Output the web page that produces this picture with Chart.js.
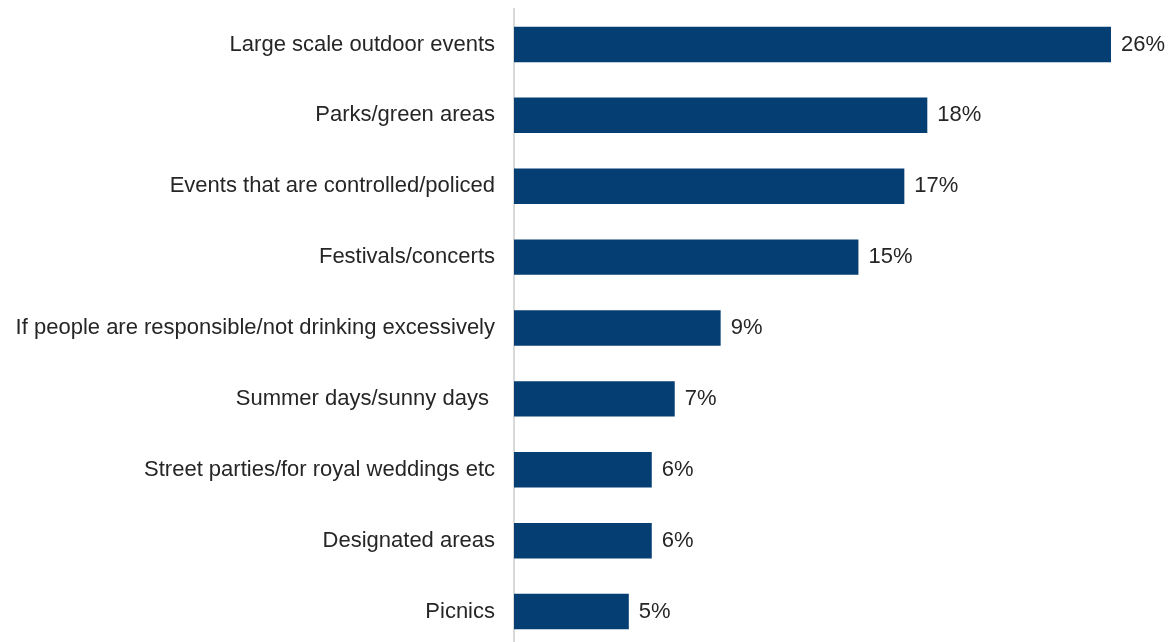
<!DOCTYPE html>
<html>
<head>
<meta charset="utf-8">
<script src="https://cdn.jsdelivr.net/npm/chart.js@4"></script>
<style>
  html, body { margin: 0; padding: 0; background: #fff; overflow: hidden; }
  #wrap { position: absolute; left: 0; top: 0; width: 1173px; height: 648px; }
</style>
</head>
<body>
<div id="wrap"><canvas id="places-chart"></canvas></div>
<script>
var categories = [
  'Large scale outdoor events',
  'Parks/green areas',
  'Events that are controlled/policed',
  'Festivals/concerts',
  'If people are responsible/not drinking excessively',
  'Summer days/sunny days ',
  'Street parties/for royal weddings etc',
  'Designated areas',
  'Picnics'
];
var percentages = [26, 18, 17, 15, 9, 7, 6, 6, 5];

var FONT = 'Arial, "Liberation Sans", sans-serif';
var TEXT = '#262626';

// writes "n%" just past the end of each bar
var valueLabels = {
  id: 'valueLabels',
  afterDatasetsDraw: function (chart) {
    var ctx = chart.ctx;
    var meta = chart.getDatasetMeta(0);
    ctx.save();
    ctx.font = '22px ' + FONT;
    ctx.fillStyle = TEXT;
    ctx.textAlign = 'left';
    ctx.textBaseline = 'middle';
    meta.data.forEach(function (bar, i) {
      ctx.fillText(percentages[i] + '%', bar.x + 10, bar.y);
    });
    ctx.restore();
  }
};

var ctx = document.getElementById('places-chart').getContext('2d');

var placesChart = new Chart(ctx, {
  type: 'bar',
  data: {
    labels: categories,
    datasets: [{
      label: '% of respondents',
      data: percentages,
      backgroundColor: '#043e73',
      borderWidth: 0,
      barPercentage: 0.5,
      categoryPercentage: 1.0
    }]
  },
  options: {
    indexAxis: 'y',
    responsive: true,
    maintainAspectRatio: false,
    animation: false,
    layout: {
      padding: { top: 9, right: 62, bottom: 1, left: 0 }
    },
    plugins: {
      legend: { display: false },
      tooltip: { enabled: false }
    },
    scales: {
      x: {
        display: false,
        min: 0,
        max: 26
      },
      y: {
        afterFit: function (scale) {
          // fixed label column, no extra room above/below the first/last label
          scale.width = 514;
          scale.paddingTop = 0;
          scale.paddingBottom = 0;
        },
        grid: { display: true, color: 'transparent', drawTicks: false },
        border: { display: true, color: '#d9d9d9', width: 2 },
        ticks: {
          padding: 19,
          color: TEXT,
          font: { family: FONT, size: 22 }
        }
      }
    }
  },
  plugins: [valueLabels]
});
</script>
</body>
</html>
